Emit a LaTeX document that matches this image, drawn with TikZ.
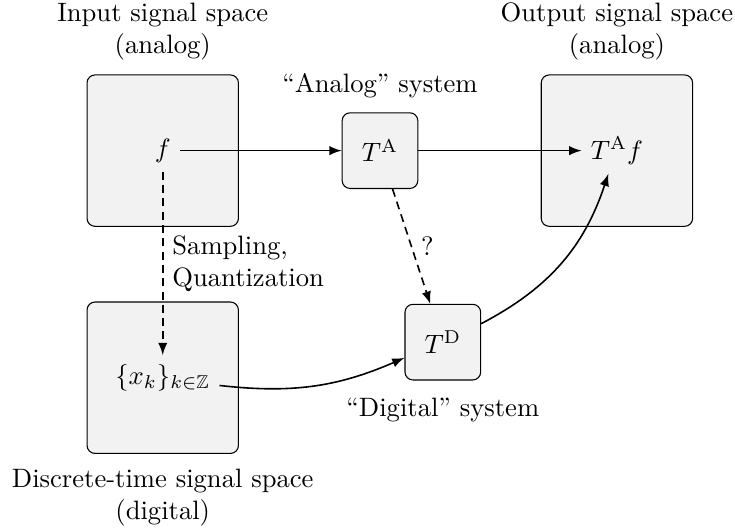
\documentclass[tikz,border=0pt]{standalone}
\usepackage{tikz}
\usepackage{amsmath}
\usepackage{amssymb}
\usetikzlibrary{calc}
\usetikzlibrary{positioning}

\begin{document}
\begin{tikzpicture}[-,>=latex,auto,
                    space node/.style={rectangle,draw,rounded corners=3pt,fill=gray!10,minimum size=2cm},
                    system node/.style={rectangle,draw,rounded corners=3pt,fill=gray!10,minimum size=1cm},
                    caption node/.style={align=center}]

\useasboundingbox (-2.15,-5.03) rectangle (7.56,1.99);

%DRAWING signal spaces

 \node[space node] (InSpace) at (0,0) {};
 \node[space node] (OutSpace) at (6,0) {};
 \node[space node] (DigSpace) at (0,-3) {};

 \node[caption node,above=2pt of InSpace] (InLabel) {Input signal space\\(analog)};
 \node[caption node,above=2pt of OutSpace] (OutLabel) {Output signal space\\(analog)};
 \node[caption node,below=2pt of DigSpace] (DigLabel) {Discrete-time signal space\\(digital)};

 \node (F) at (InSpace) {$f$};
 \node (TAF) at (OutSpace) {$T^{\mathrm{A}} f$};
 \node (X) at (DigSpace) {$\{x_k\}_{k\in\mathbb{Z}}$};

%Inserting the two systems

 \node[system node] (SysA) at (2.87,0) {$T^{\mathrm{A}}$};
 \node[system node] (SysD) at (3.70,-2.53) {$T^{\mathrm{D}}$};

 \node[above=2pt of SysA] (SysALabel) {``Analog'' system};
 \node[below=3pt of SysD] (SysDLabel) {``Digital'' system};

%Connections

 \draw[->,semithick] (F) -- (SysA);
 \draw[->,semithick] (SysA) -- (TAF);
 \draw[->,semithick,densely dashed] (F) -- node[right,align=left] (SampLabel) {Sampling,\\Quantization} (X);
 \draw[->,semithick,densely dashed] (SysA) -- node[right] (QLabel) {?} (SysD);
 \draw[->,semithick] (X) to[bend right=15] (SysD);
 \draw[->,semithick] (SysD) to[bend right=22] (TAF);

\end{tikzpicture}
\end{document}
